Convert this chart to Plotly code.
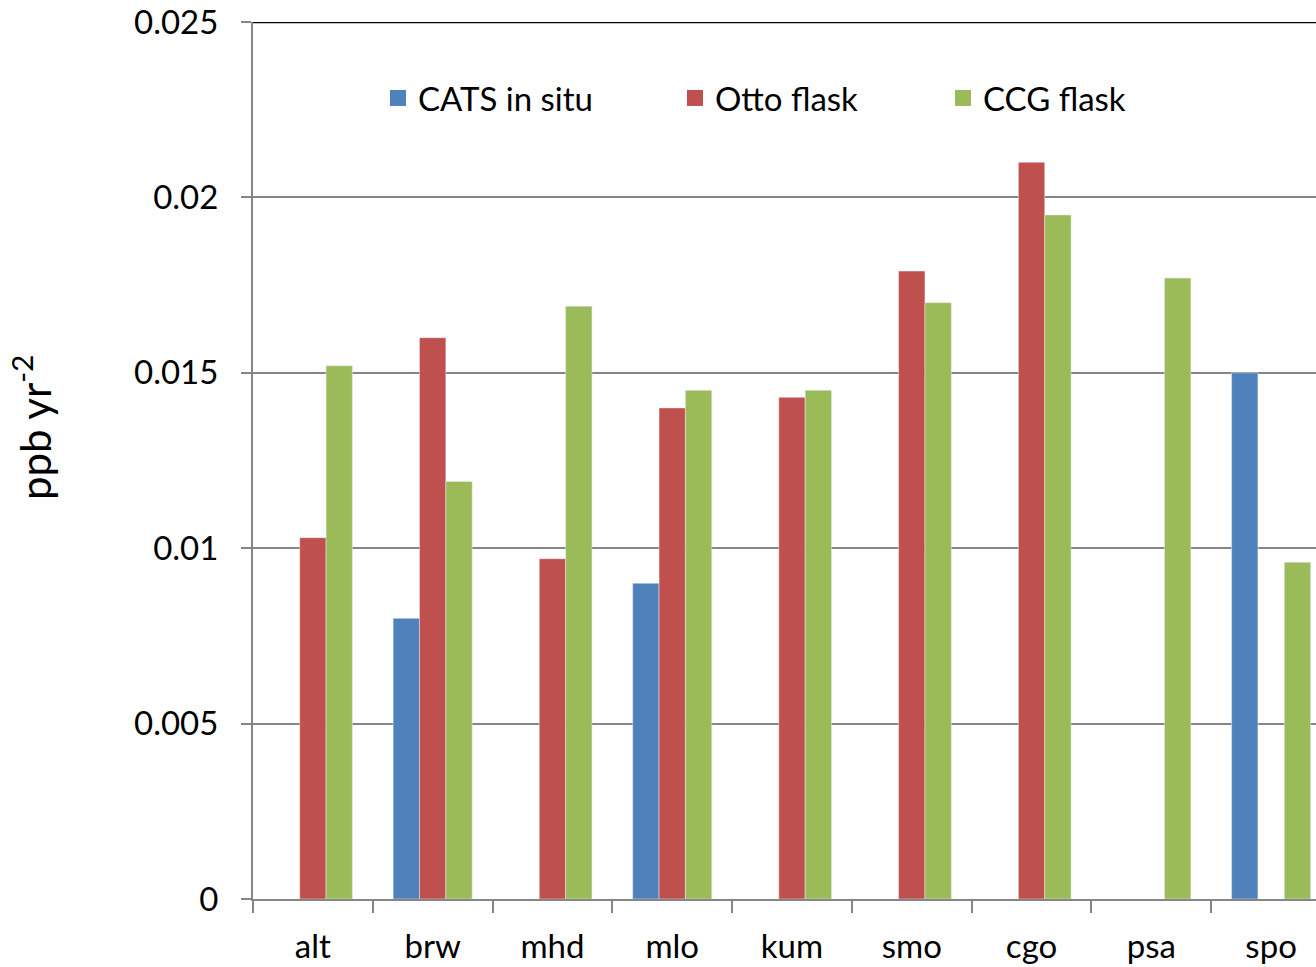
import plotly.graph_objects as go

categories = ["alt", "brw", "mhd", "mlo", "kum", "smo", "cgo", "psa", "spo"]
cats_in_situ = [None, 0.0080, None, 0.0090, None, None, None, None, 0.0150]
otto_flask = [0.0103, 0.0160, 0.0097, 0.0140, 0.0143, 0.0179, 0.0210, None, None]
ccg_flask = [0.0152, 0.0119, 0.0169, 0.0145, 0.0145, 0.0170, 0.0195, 0.0177, 0.0096]
series_names = ["CATS in situ", "Otto flask", "CCG flask"]
series_colors = ["#4F81BD", "#C0504D", "#9BBB59"]
y_ticks = [0, 0.005, 0.01, 0.015, 0.02, 0.025]
y_tick_labels = ["0", "0.005", "0.01", "0.015", "0.02", "0.025"]

FONT = "Lato"
L, T, B, W, H = 253, 22, 68, 1316, 967
PW, PH = W - L, H - T - B

fig = go.Figure()
for name, vals, col in zip(series_names, [cats_in_situ, otto_flask, ccg_flask], series_colors):
    fig.add_trace(go.Bar(name=name, x=categories, y=vals, marker_color=col, showlegend=False))

# legend entries (one legend per entry, positioned like the reference)
legend_px = [386, 683, 951]
legend_names = ["legend", "legend2", "legend3"]
for name, col, lg in zip(series_names, series_colors, legend_names):
    fig.add_trace(go.Scatter(name=name, x=[None], y=[None], mode="markers",
                             marker=dict(symbol="square", size=21, color=col),
                             legend=lg, showlegend=True))

ly = 1 - (98 - T) / PH
leg_common = dict(orientation="h", yanchor="middle", xanchor="left", y=ly,
                  font=dict(family=FONT, size=33, color="black"),
                  bgcolor="rgba(0,0,0,0)", itemwidth=30)
fig.update_layout(
    width=W, height=H,
    margin=dict(l=L, r=0, t=T, b=B, autoexpand=False),
    paper_bgcolor="white", plot_bgcolor="white",
    barmode="group", bargap=0.34, bargroupgap=0,
    font=dict(family=FONT, size=32, color="black"),
    legend=dict(x=(legend_px[0] - 8 - L) / PW, **leg_common),
    legend2=dict(x=(legend_px[1] - 8 - L) / PW, **leg_common),
    legend3=dict(x=(legend_px[2] - 8 - L) / PW, **leg_common),
)
fig.update_xaxes(
    range=[-0.5, 8.5 - 15 / 119.75], automargin=False,
    showline=True, linecolor="#868686", linewidth=2,
    ticks="outside", tickson="boundaries", ticklen=12, tickcolor="#868686", tickwidth=2,
    showgrid=False, tickfont=dict(size=33), ticklabelstandoff=17,
)
fig.update_yaxes(
    range=[0, 0.025], automargin=False,
    tickvals=y_ticks, ticktext=y_tick_labels,
    showline=True, linecolor="#868686", linewidth=2,
    ticks="outside", ticklen=10, tickcolor="#868686", tickwidth=2,
    showgrid=True, gridcolor="#868686", gridwidth=1.5,
    zeroline=False, tickfont=dict(size=33), ticklabelstandoff=16,
)
fig.add_annotation(text="ppb yr<sup>-2</sup>", xref="paper", yref="paper",
                   x=(32 - L) / PW, y=1 - (428 - T) / PH, textangle=-90,
                   showarrow=False, font=dict(family=FONT, size=42, color="black"),
                   xanchor="center", yanchor="middle")
fig.add_shape(type="line", xref="paper", yref="y", x0=0, x1=1, y0=0.025, y1=0.025,
              line=dict(color="black", width=2.5), layer="above")
fig.write_html("out.html", config={"displayModeBar": False},
               post_script="document.body.style.margin='0';document.body.style.overflow='hidden';")
